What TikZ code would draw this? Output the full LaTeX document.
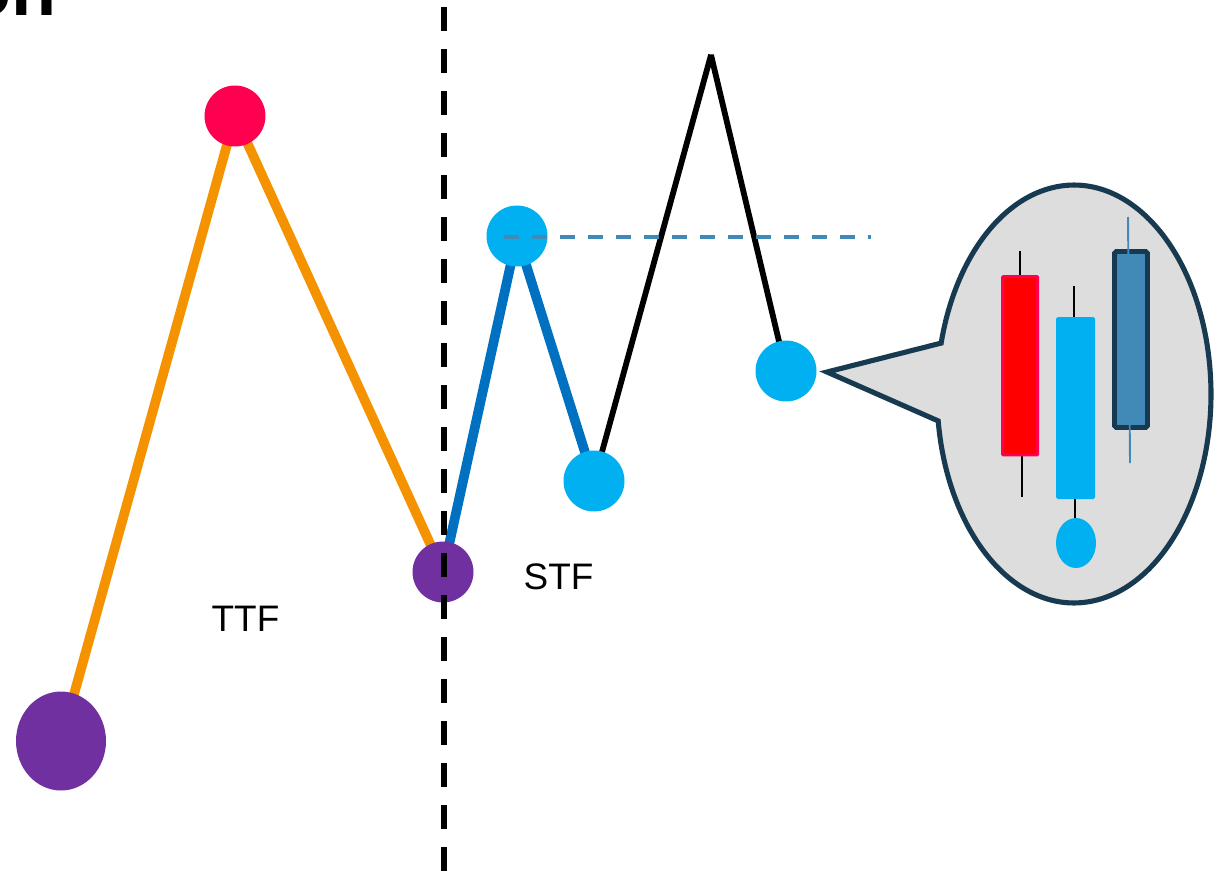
\documentclass[tikz,border=0pt]{standalone}
\usepackage{fontspec}
\setmainfont{Liberation Sans}
\usetikzlibrary{shapes.geometric,backgrounds}
\definecolor{cOrange}{HTML}{F59200}
\definecolor{cRed}{HTML}{FF0050}
\definecolor{cPurple}{HTML}{7030A0}
\definecolor{cBlue}{HTML}{0070C0}
\definecolor{cCyan}{HTML}{00B0F0}
\definecolor{cSteel}{HTML}{4189B6}
\definecolor{cDark}{HTML}{173A50}
\definecolor{cBubble}{HTML}{DDDDDD}
\tikzset{
  dot/.style={circle, minimum size=1.22cm, inner sep=0pt, draw=none},
  ttflink/.style={cOrange, line width=5.5pt, line join=round},
  stflink/.style={cBlue, line width=5.5pt, line join=round},
  pathlink/.style={black, line width=3.3pt, line join=bevel},
  lbl/.style={font=\fontsize{21}{25}\selectfont, inner sep=0pt},
  wick/.style={black, line width=1.1pt},
}
\begin{document}
\begin{tikzpicture}[x=0.02cm, y=-0.02cm]
\useasboundingbox (0,0) rectangle (1222,871);
% clipped title fragment
\node[font=\fontsize{42}{50}\selectfont\bfseries, anchor=base east, inner sep=0pt] (title) at (57,16) {on};

% nodes
\node[ellipse, fill=cPurple, minimum width=1.8cm, minimum height=1.98cm, inner sep=0pt] (p1) at (61,741) {};
\node[dot, fill=cRed] (r1) at (235,116) {};
\node[dot, fill=cPurple] (p2) at (443,572) {};
\node[dot, fill=cCyan] (c1) at (517,236) {};
\node[dot, fill=cCyan] (c2) at (594,481) {};
\node[dot, fill=cCyan] (c3) at (786,371) {};
\coordinate (peak) at (711,55);

\begin{pgfonlayer}{background}
\draw[ttflink] (p1.center) -- (r1.center) -- (p2.center);
\draw[stflink] (p2.center) -- (c1.center) -- (c2.center);
\draw[pathlink] (c2.center) -- (peak) -- (c3.center);
\end{pgfonlayer}

% horizontal dashed level
\coordinate (lvlend) at (871,237);
\draw[cSteel, line width=2.3pt, dash pattern=on 0.3cm off 0.26cm] (504,237) -- (lvlend);

% labels
\node[lbl] (ttf) at (245.5,619) {TTF};
\node[lbl] (stf) at (558.5,576.5) {STF};

% speech bubble
\draw[cDark, fill=cBubble, line width=2.9pt, line join=miter]
  (1074,394) ++(187.4:2.74cm and 4.18cm) coordinate (bA)
  arc[start angle=187.4, end angle=525.9, x radius=2.74cm, y radius=4.18cm]
  -- (827,372) coordinate (tip) -- cycle;

% candles
\draw[wick] (1020,251) -- (1020,280);
\draw[wick] (1022,452) -- (1022,497);
\draw[fill=red, draw=cRed, line width=1.7pt, rounded corners=0.5pt] (1002.5,276.5) rectangle (1037.5,455);
\draw[wick] (1074,286) -- (1074,320);
\draw[wick] (1075,496) -- (1075,520);
\fill[cCyan, rounded corners=1pt] (1056,317) rectangle (1095,499);
\node[ellipse, fill=cCyan, minimum width=0.8cm, minimum height=1.0cm, inner sep=0pt] (cdot) at (1076,543) {};
\draw[fill=cSteel, draw=cDark, line width=2.8pt, rounded corners=1pt] (1114.5,251.5) rectangle (1147.5,427.5);
\draw[cSteel, line width=1.1pt] (1128,217) -- (1130,463);

% vertical dashed separator
\coordinate (sepTop) at (443.7,7);
\coordinate (sepBot) at (443.7,871);
\draw[black, line width=3.4pt, dash pattern=on 0.48cm off 0.36cm] (sepTop) -- (sepBot);
\end{tikzpicture}
\end{document}
